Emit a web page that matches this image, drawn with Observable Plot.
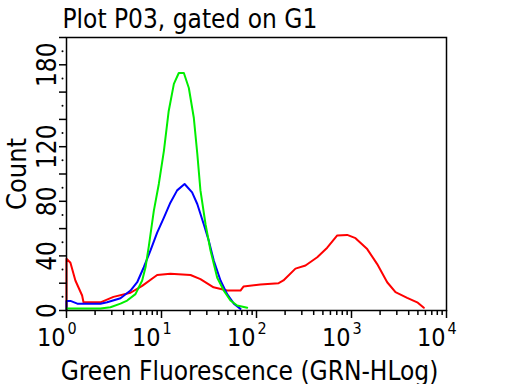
<!DOCTYPE html>
<html><head><meta charset="utf-8">
<script src="https://cdn.jsdelivr.net/npm/d3@7"></script>
<script src="https://cdn.jsdelivr.net/npm/@observablehq/plot@0.6"></script>
<style>body{margin:0;background:#fff;} svg{display:block;}</style>
</head><body><div id="chart"></div>
<script>
const titleText = "Plot P03, gated on G1";
const xTitle = "Green Fluorescence (GRN-HLog)";
const yTitle = "Count";

const redX = [1, 1, 1.1, 1.24, 1.46, 1.51, 2.28, 3.12, 4.72, 6.26, 9.0, 12.4, 20.2, 25.7, 35.3, 49.1, 67.8, 72.9, 110, 171, 192, 257, 328, 436, 555, 708, 901, 1102, 1463, 1864, 2375, 2904, 3855, 4918, 5770];
const redY = [0, 38, 35, 22, 11, 6, 6, 10, 13, 18, 26, 27, 26, 23, 17, 14.6, 14.6, 17.5, 19, 20, 22, 30.7, 33, 39, 46, 55, 55.4, 53, 45, 34, 20.7, 13.4, 9.3, 6, 2];

const blueX = [1, 1, 1.1, 1.3, 2.28, 2.68, 3.7, 4.72, 5.55, 6.51, 7.66, 9.0, 10.6, 12.4, 14.6, 17.5, 21.0, 23.8, 27.9, 31.5, 35.5, 41.8, 49.1, 57.7, 67.8];
const blueY = [0, 7, 7, 5, 5, 6, 9, 14.6, 20.7, 31.7, 44, 57, 68, 79, 88, 92.7, 86.5, 78, 63, 51, 36.6, 22, 12, 5, 1.2];

const greenX = [1, 2.28, 2.9, 3.7, 4.35, 5.32, 6.26, 6.79, 7.35, 8.3, 9.37, 10.6, 11.9, 13.5, 15.2, 17.2, 19.4, 21.9, 23.8, 25.7, 29.1, 32.8, 38.6, 45.3, 53.2, 62.6, 79.8];
const greenY = [1.5, 1.5, 2.4, 5, 7.3, 12, 22, 31.7, 47, 73, 92.7, 117, 146, 166, 174, 174, 163, 141, 115, 88, 63, 44, 24, 14.6, 7.3, 3.7, 2];

const xMajor = [1, 10, 100, 1000, 10000];
const xExponents = ["0", "1", "2", "3", "4"];
const xMinor = [2,3,4,5,6,7,8,9,20,30,40,50,60,70,80,90,200,300,400,500,600,700,800,900,2000,3000,4000,5000,6000,7000,8000,9000];
const yMajor = [0,20,40,60,80,100,120,140,160,180,200];
const yMinor = [10,30,50,70,90,110,130,150,170,190];
const yLabels = [0, 40, 80, 120, 180];

const seriesNames = ["series1", "series2", "series3"];
const seriesColors = ["#ff0000", "#0000ff", "#00ee00"];
const rows = [];
[[redX, redY], [blueX, blueY], [greenX, greenY]].forEach(([xs, ys], k) => {
  xs.forEach((x, i) => rows.push({x, y: ys[i], s: seriesNames[k]}));
});

const font = "'DejaVu Sans Condensed', 'Open Sans', sans-serif";
const chart = Plot.plot({
  width: 512, height: 384,
  marginLeft: 66, marginRight: 66, marginTop: 37, marginBottom: 74,
  style: {fontFamily: font, background: "#fff", color: "#000"},
  x: {type: "log", domain: [1, 10000], axis: null},
  y: {domain: [0, 200], axis: null},
  color: {type: "ordinal", domain: seriesNames, range: seriesColors},
  marks: [
    Plot.line(rows, {x: "x", y: "y", z: "s", stroke: "s", strokeWidth: 2}),
    Plot.frame({stroke: "#000", strokeWidth: 1.5}),
    Plot.axisX({ticks: xMinor, tickSize: 5, tickFormat: () => "", strokeWidth: 1.5, label: null}),
    Plot.axisX({ticks: xMajor, tickSize: 8, tickFormat: () => "", strokeWidth: 1.5, label: null}),
    Plot.axisY({ticks: yMajor, tickSize: 7, tickFormat: () => "", strokeWidth: 1.5, label: null}),
    Plot.dot(yMinor, {y: d => d, frameAnchor: "left", dx: -4, r: 1, fill: "#000", stroke: null}),
    Plot.text(xMajor, {x: d => d, text: () => "10", frameAnchor: "bottom", dy: 35, dx: -1, textAnchor: "end", lineAnchor: "bottom", fontSize: 25}),
    Plot.text(xMajor, {x: d => d, text: (d, i) => xExponents[i], frameAnchor: "bottom", dy: 23, dx: 1, textAnchor: "start", lineAnchor: "bottom", fontSize: 16}),
    Plot.text(yLabels, {y: d => d, text: d => String(d), frameAnchor: "left", dx: -11, rotate: -90, textAnchor: "middle", lineAnchor: "bottom", fontSize: 26}),
    Plot.text([yTitle], {frameAnchor: "left", dx: -41, rotate: -90, textAnchor: "middle", lineAnchor: "bottom", fontSize: 27}),
    Plot.text([xTitle], {frameAnchor: "bottom", dx: -7, dy: 69, textAnchor: "middle", lineAnchor: "bottom", fontSize: 26}),
    Plot.text([titleText], {frameAnchor: "top-left", dx: -4, dy: -10, textAnchor: "start", lineAnchor: "bottom", fontSize: 26})
  ]
});
document.getElementById("chart").appendChild(chart);
</script>
</body></html>
